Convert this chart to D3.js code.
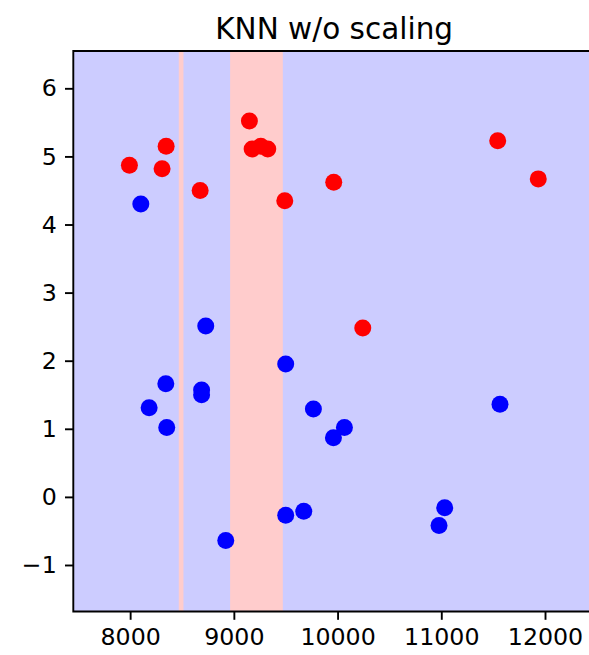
<!DOCTYPE html>
<html>
<head>
<meta charset="utf-8">
<script src="https://cdn.jsdelivr.net/npm/d3@7"></script>
<style>
  html, body { margin: 0; padding: 0; background: #ffffff; }
  svg { display: block; }
  text { font-family: "DejaVu Sans", sans-serif; fill: #000; }
</style>
</head>
<body>
<script>
// Training points, class 1 (red)
const redX = [9150, 8347, 7993, 8308, 9176, 9260, 9327, 8675, 9491, 9963, 10243, 11544, 11935];
const redY = [5.52, 5.15, 4.87, 4.82, 5.11, 5.15, 5.11, 4.50, 4.35, 4.62, 2.48, 5.23, 4.67];

// Training points, class 0 (blue)
const blueX = [8103, 8729, 11566, 11033, 10978, 9500, 8344, 8689, 8689, 8183, 8353, 9767, 10066, 9960, 9500, 9674, 8922];
const blueY = [4.30, 2.51, 1.36, -0.16, -0.42, 1.95, 1.66, 1.57, 1.50, 1.31, 1.02, 1.29, 1.02, 0.87, -0.27, -0.21, -0.64];

// x-intervals where the classifier predicts class 1
const bandStart = [8469, 8964];
const bandEnd = [8514, 9472];

const xTicks = [8000, 9000, 10000, 11000, 12000];
const yTicks = [-1, 0, 1, 2, 3, 4, 5, 6];

const W = 589, H = 655;
const m = { left: 73.3, right: 595, top: 51, bottom: 611.5 };

const svg = d3.select("body").append("svg")
  .attr("width", W).attr("height", H);

const x = d3.scaleLinear().domain([7452, 12482]).range([m.left, m.right]);
const y = d3.scaleLinear().domain([-1.683, 6.548]).range([m.bottom, m.top]);

// decision surface
svg.append("rect")
  .attr("x", m.left).attr("y", m.top)
  .attr("width", m.right - m.left).attr("height", m.bottom - m.top)
  .attr("fill", "#ccccff");

const bands = bandStart.map((s, i) => ({ s, e: bandEnd[i] }));
svg.append("g").selectAll("rect").data(bands).join("rect")
  .attr("x", d => x(d.s)).attr("y", m.top)
  .attr("width", d => x(d.e) - x(d.s)).attr("height", m.bottom - m.top)
  .attr("fill", "#ffcccc");

// points
const blue = blueX.map((v, i) => ({ x: v, y: blueY[i] }));
const red = redX.map((v, i) => ({ x: v, y: redY[i] }));
const r = 8.5;
svg.append("g").selectAll("circle").data(blue).join("circle")
  .attr("cx", d => x(d.x)).attr("cy", d => y(d.y)).attr("r", r)
  .attr("fill", "#0000ff");
svg.append("g").selectAll("circle").data(red).join("circle")
  .attr("cx", d => x(d.x)).attr("cy", d => y(d.y)).attr("r", r)
  .attr("fill", "#ff0000");

// axes
const tickLen = 8.3, pad = 8.3;
const xAxis = d3.axisBottom(x).tickValues(xTicks).tickFormat(d3.format("d"))
  .tickSizeInner(tickLen).tickSizeOuter(0).tickPadding(pad);
const yAxis = d3.axisLeft(y).tickValues(yTicks).tickFormat(d3.format("d"))
  .tickSizeInner(tickLen).tickSizeOuter(0).tickPadding(pad);

const gx = svg.append("g").attr("transform", `translate(0,${m.bottom})`).call(xAxis);
const gy = svg.append("g").attr("transform", `translate(${m.left},0)`).call(yAxis);

[gx, gy].forEach(g => {
  g.select(".domain").remove();
  g.selectAll(".tick line").attr("stroke", "#000").attr("stroke-width", 1.9);
  g.selectAll(".tick text")
    .style("font-family", "'DejaVu Sans', sans-serif")
    .style("font-size", "23.7px")
    .attr("fill", "#000");
});

// spines (right edge falls outside the canvas)
svg.append("path")
  .attr("d", `M${m.right + 2},${m.top} H${m.left} V${m.bottom} H${m.right + 2}`)
  .attr("fill", "none").attr("stroke", "#000").attr("stroke-width", 1.9)
  .attr("stroke-linecap", "square");

// title
svg.append("text")
  .attr("x", (m.left + m.right) / 2).attr("y", 38.5)
  .attr("text-anchor", "middle")
  .style("font-size", "29.5px")
  .text("KNN w/o scaling");
</script>
</body>
</html>
